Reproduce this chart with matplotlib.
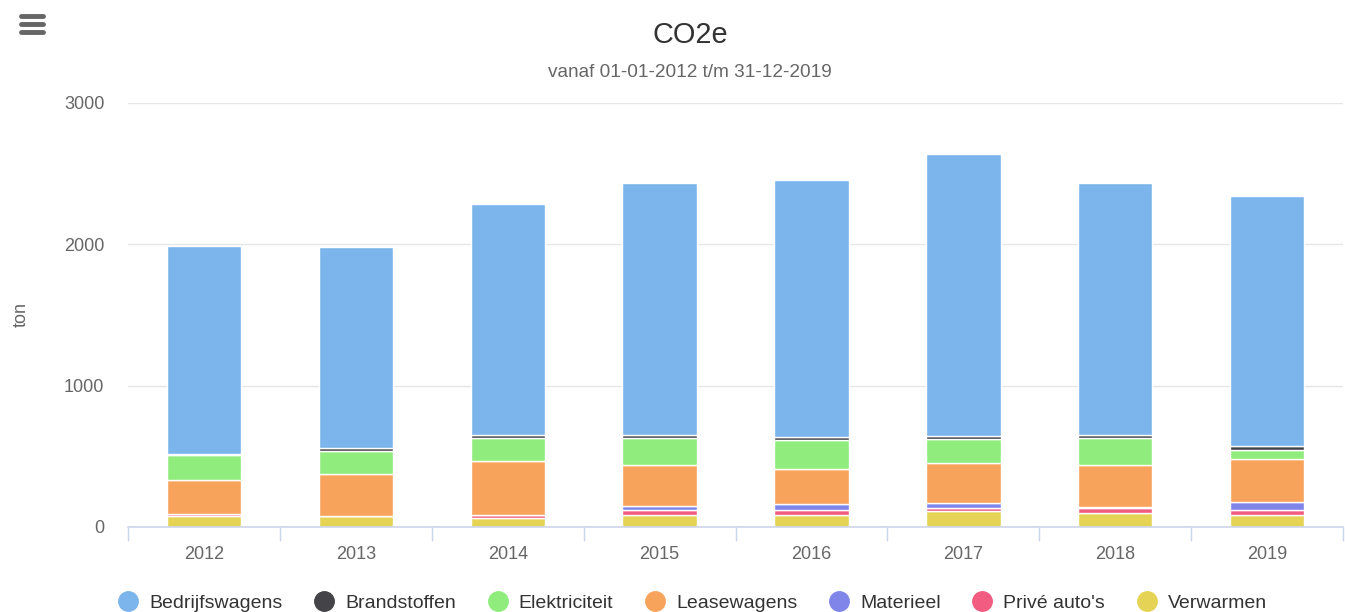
import matplotlib.pyplot as plt
from matplotlib.lines import Line2D
import numpy as np

plt.rcParams['font.family'] = ['Liberation Sans', 'DejaVu Sans']

years = ['2012', '2013', '2014', '2015', '2016', '2017', '2018', '2019']
series_names = ['Bedrijfswagens', 'Brandstoffen', 'Elektriciteit', 'Leasewagens',
                'Materieel', "Privé auto's", 'Verwarmen']
colors = ['#7cb5ec', '#434348', '#90ed7d', '#f7a35c', '#8085e9', '#f15c80', '#e4d354']

# tons per year
bedrijfswagens = [1475, 1425, 1635, 1780, 1815, 1995, 1785, 1770]
brandstoffen = [5, 18, 20, 22, 22, 23, 23, 23]
elektriciteit = [180, 165, 165, 190, 205, 170, 190, 67]
leasewagens = [235, 295, 385, 295, 248, 283, 300, 306]
materieel = [0, 0, 0, 30, 45, 40, 5, 55]
prive_autos = [20, 5, 20, 30, 33, 20, 37, 33]
verwarmen = [75, 75, 62, 87, 87, 111, 97, 87]

values = [bedrijfswagens, brandstoffen, elektriciteit, leasewagens,
          materieel, prive_autos, verwarmen]

fig = plt.figure(figsize=(13.45, 6.12), dpi=100)
ax = fig.add_axes([0.0952, 0.1389, 0.9033, 0.6928])

x = np.arange(len(years))
bottom = np.zeros(len(years))
# highcharts stacks the first series on top, so draw from last to first
for name, vals, col in reversed(list(zip(series_names, values, colors))):
    vals = np.array(vals, dtype=float)
    ax.bar(x, vals, width=0.49, bottom=bottom, color=col, edgecolor='white',
           linewidth=1, zorder=3)
    bottom += vals

ax.set_xlim(-0.5, len(years) - 0.5)
ax.set_ylim(0, 3000)
ax.set_yticks([0, 1000, 2000, 3000])
ax.yaxis.grid(True, color='#e6e6e6', linewidth=1, zorder=0)
ax.tick_params(axis='y', length=0, labelsize=13, labelcolor='#666666', pad=17)

ax.set_xticks(x)
ax.set_xticklabels(years)
ax.set_xticks(np.arange(-0.5, len(years)), minor=True)
ax.tick_params(axis='x', which='major', length=0, labelsize=13, labelcolor='#666666', pad=14)
ax.tick_params(axis='x', which='minor', length=10, color='#ccd6eb', width=1)

for s in ['top', 'right', 'left']:
    ax.spines[s].set_visible(False)
ax.spines['bottom'].set_color('#ccd6eb')
ax.spines['bottom'].set_linewidth(1.2)
ax.spines['bottom'].set_zorder(4)

ax.set_ylabel('ton', fontsize=13, color='#666666')
ax.yaxis.set_label_coords(-0.081, 0.5)

fig.text(0.513, 0.943, 'CO2e', ha='center', va='center', fontsize=20.8, color='#333333')
fig.text(0.513, 0.882, 'vanaf 01-01-2012 t/m 31-12-2019', ha='center', va='center',
         fontsize=13.7, color='#666666')

# menu icon
for yy in [16, 24, 32]:
    fig.add_artist(Line2D([21 / 1345, 43 / 1345], [1 - yy / 612, 1 - yy / 612],
                          color='#666666', linewidth=3.5, solid_capstyle='round'))

handles = [Line2D([], [], marker='o', linestyle='none', markersize=14,
                  markerfacecolor=c, markeredgecolor=c) for c in colors]
fig.legend(handles, series_names, loc='lower center', bbox_to_anchor=(0.515, -0.029),
           ncol=7, frameon=False, fontsize=14, handlelength=1.0, handletextpad=0.58,
           columnspacing=1.65, labelcolor='#333333')

fig.savefig('out.png', dpi=100, facecolor='white')
